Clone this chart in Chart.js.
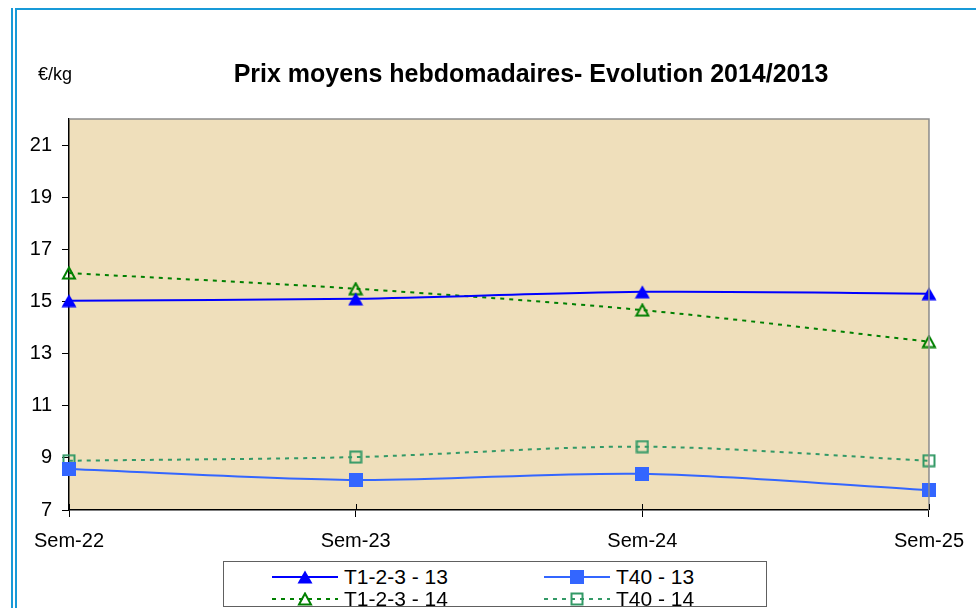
<!DOCTYPE html>
<html>
<head>
<meta charset="utf-8">
<script src="https://cdn.jsdelivr.net/npm/chart.js@4.4.0/dist/chart.umd.min.js"></script>
<style>
html, body { margin: 0; padding: 0; background: #fff; }
body { width: 976px; height: 608px; position: relative; overflow: hidden; font-family: "Liberation Sans", Arial, sans-serif; }
#trait1 { position: absolute; left: 11px; top: 8px; width: 2px; height: 620px; background: #189ad8; }
#trait2 { position: absolute; left: 15px; top: 8px; width: 980px; height: 620px; border-left: 2px solid #189ad8; border-top: 2px solid #189ad8; }
#graphe { position: absolute; left: 0; top: 0; width: 976px; height: 608px; }
#titre { position: absolute; left: 0; width: 1062px; top: 61px; line-height: 25px; text-align: center; font-size: 25px; font-weight: bold; color: #000; white-space: nowrap; }
#unite { position: absolute; left: 38px; top: 65px; line-height: 18px; font-size: 18px; color: #000; }
#legende { position: absolute; left: 223px; top: 561px; width: 542px; height: 44px; border: 1px solid #606060; background: #fff; }
.item { position: absolute; height: 20px; }
.item canvas { position: absolute; left: 0; top: 0; }
.item span { position: absolute; top: -2px; line-height: 24px; font-size: 21px; color: #000; white-space: nowrap; }
</style>
</head>
<body>
<div id="trait1"></div>
<div id="trait2"></div>
<canvas id="graphe" width="976" height="608"></canvas>
<div id="unite">€/kg</div>
<div id="titre">Prix moyens hebdomadaires- Evolution 2014/2013</div>
<div id="legende"></div>

<script>
// Données
const semaines = ['Sem-22', 'Sem-23', 'Sem-24', 'Sem-25'];
const t123_13 = [15.03, 15.1, 15.37, 15.3];
const t40_13 = [8.57, 8.15, 8.39, 7.76];
const t123_14 = [16.09, 15.49, 14.67, 13.46];
const t40_14 = [8.89, 9.03, 9.43, 8.89];
const ticksY = [7, 9, 11, 13, 15, 17, 19, 21];
const minY = 7;
const maxY = 22;

// Dessine un marqueur (triangle ou carré) dans un petit canvas
function marqueur(forme, plein, couleur) {
    const c = document.createElement('canvas');
    const w = forme === 'triangle' ? 16 : 14;
    const h = 14;
    c.width = w;
    c.height = h;
    const ctx = c.getContext('2d');
    ctx.beginPath();
    if (forme === 'triangle') {
        if (plein) {
            ctx.moveTo(w / 2, 0.5);
            ctx.lineTo(w - 0.5, h - 0.5);
            ctx.lineTo(0.5, h - 0.5);
        } else {
            ctx.moveTo(w / 2, 1.5);
            ctx.lineTo(w - 2, h - 1.5);
            ctx.lineTo(2, h - 1.5);
        }
        ctx.closePath();
    } else {
        if (plein) ctx.rect(0, 0, w, h);
        else ctx.rect(1.5, 1.5, w - 3, h - 3);
    }
    if (plein) {
        ctx.fillStyle = couleur;
        ctx.fill();
    } else {
        ctx.strokeStyle = couleur;
        ctx.lineWidth = 2;
        ctx.stroke();
    }
    return c;
}

const series = [
    { label: 'T1-2-3 - 13', data: t123_13, couleur: '#0000ff', tirets: [], forme: 'triangle', plein: true },
    { label: 'T40 - 13', data: t40_13, couleur: '#3366ff', tirets: [], forme: 'carre', plein: true },
    { label: 'T1-2-3 - 14', data: t123_14, couleur: '#008000', tirets: [4, 5], forme: 'triangle', plein: false },
    { label: 'T40 - 14', data: t40_14, couleur: '#339966', tirets: [4, 5], forme: 'carre', plein: false }
];
series.forEach(s => { s.marque = marqueur(s.forme, s.plein, s.couleur); });

// Fond beige et cadre gris haut/droite
const fondPlugin = {
    id: 'fond',
    beforeDraw(chart) {
        const { ctx, chartArea: a } = chart;
        ctx.save();
        ctx.fillStyle = '#efdfbb';
        ctx.fillRect(a.left, a.top, a.right - a.left, a.bottom - a.top);
        ctx.restore();
    },
    afterDraw(chart) {
        const { ctx, chartArea: a } = chart;
        ctx.save();
        ctx.strokeStyle = '#8c8c8c';
        ctx.lineWidth = 1.5;
        ctx.beginPath();
        ctx.moveTo(a.left, a.top);
        ctx.lineTo(a.right, a.top);
        ctx.lineTo(a.right, a.bottom);
        ctx.stroke();
        // partie intérieure des graduations de l'axe X
        const x = chart.scales.x;
        ctx.strokeStyle = '#000';
        ctx.lineWidth = 1;
        x.ticks.forEach((t, i) => {
            const px = Math.round(x.getPixelForTick(i)) + 0.5;
            ctx.beginPath();
            ctx.moveTo(px, a.bottom - 6);
            ctx.lineTo(px, a.bottom);
            ctx.stroke();
        });
        ctx.restore();
    }
};

new Chart(document.getElementById('graphe').getContext('2d'), {
    type: 'line',
    data: {
        labels: semaines,
        datasets: series.map(s => ({
            label: s.label,
            data: s.data,
            borderColor: s.couleur,
            backgroundColor: s.couleur,
            borderWidth: 2,
            borderDash: s.tirets,
            pointStyle: s.marque,
            pointRadius: 7,
            pointHoverRadius: 7,
            tension: 0.3,
            fill: false,
            clip: false
        }))
    },
    options: {
        responsive: false,
        animation: false,
        events: [],
        layout: { padding: { top: 119, right: 45, bottom: 0, left: 0 } },
        plugins: {
            legend: { display: false },
            tooltip: { enabled: false },
            title: { display: false }
        },
        scales: {
            x: {
                offset: false,
                afterFit: s => { s.height = 98; },
                grid: { drawOnChartArea: false, drawTicks: true, tickLength: 7, color: '#000', lineWidth: 1 },
                border: { color: '#000', width: 1.5 },
                ticks: { color: '#000', padding: 12, maxRotation: 0, autoSkip: false, font: { family: '"Liberation Sans", Arial, sans-serif', size: 20 } }
            },
            y: {
                min: minY,
                max: maxY,
                afterFit: s => { s.width = 69; },
                afterBuildTicks: s => { s.ticks = ticksY.map(v => ({ value: v })); },
                grid: { drawOnChartArea: false, drawTicks: true, tickLength: 7, color: '#000', lineWidth: 1 },
                border: { color: '#000', width: 1.5 },
                ticks: { color: '#000', padding: 10, font: { family: '"Liberation Sans", Arial, sans-serif', size: 20 } }
            }
        }
    },
    plugins: [fondPlugin]
});

// Légende sur deux colonnes
const legende = document.getElementById('legende');
const colonnes = [48, 320];
const lignes = [5, 27];
series.forEach((s, i) => {
    const item = document.createElement('div');
    item.className = 'item';
    item.style.left = colonnes[i % 2] + 'px';
    item.style.top = lignes[Math.floor(i / 2)] + 'px';
    const c = document.createElement('canvas');
    c.width = 66;
    c.height = 20;
    const ctx = c.getContext('2d');
    ctx.strokeStyle = s.couleur;
    ctx.lineWidth = 2;
    ctx.setLineDash(s.tirets);
    ctx.beginPath();
    ctx.moveTo(0, 10);
    ctx.lineTo(66, 10);
    ctx.stroke();
    ctx.drawImage(s.marque, 33 - s.marque.width / 2, 10 - s.marque.height / 2);
    item.appendChild(c);
    const texte = document.createElement('span');
    texte.style.left = '72px';
    texte.textContent = s.label;
    item.appendChild(texte);
    legende.appendChild(item);
});
</script>
</body>
</html>
